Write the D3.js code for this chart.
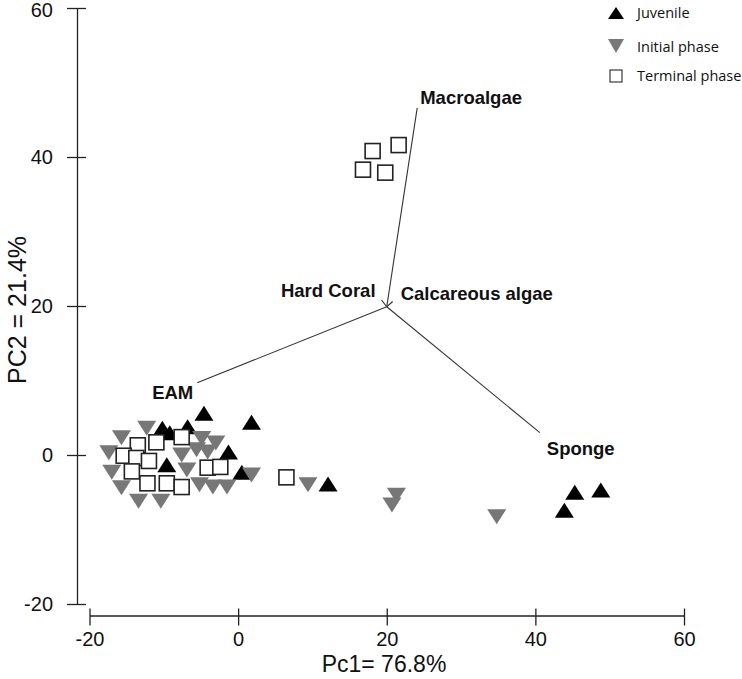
<!DOCTYPE html>
<html><head><meta charset="utf-8">
<script src="https://cdn.jsdelivr.net/npm/d3@7"></script>
<style>body{margin:0;background:#fff}svg{display:block}</style>
</head><body>
<script>
// ---- data ----
const juvenile = [
  [-4.6,5.6],[1.8,4.4],[-10.2,3.6],[-9.2,3.0],[-6.8,3.8],[-1.3,0.4],[-9.6,-1.3],[0.5,-2.3],
  [12.1,-3.9],[45.3,-5.0],[48.8,-4.7],[43.9,-7.4]
];
const initialPhase = [
  [-15.7,2.3],[-12.3,3.6],[-17.4,0.3],[-17.0,-2.3],[-15.7,-4.4],[-13.4,-6.2],[-10.4,-6.2],
  [-4.9,2.2],[-3.0,1.6],[-7.6,0.0],[-5.6,0.7],[-4.1,0.4],[-6.9,-2.0],[-5.2,-4.0],[-3.4,-4.3],
  [-1.5,-4.3],[1.8,-2.7],[9.4,-4.0],[21.3,-5.4],[20.7,-6.7],[34.8,-8.3]
];
const terminalPhase = [
  [-13.5,1.3],[-11.0,1.7],[-15.4,-0.1],[-13.7,-0.4],[-12.0,-0.8],[-14.3,-2.2],[-12.2,-3.8],
  [-9.6,-3.8],[-7.6,-4.3],[-7.6,2.4],[-4.1,-1.7],[-2.4,-1.6],[6.5,-3.0],
  [16.8,38.3],[18.1,40.8],[19.8,37.9],[21.6,41.6]
];
const vectorOrigin = [20,19.9];
const vectorNames = ["Macroalgae","Hard Coral","Calcareous algae","EAM","Sponge"];
const vectorEnds = [[24.1,46.6],[19.3,20.8],[20.8,20.6],[-5.5,9.7],[40.6,3.0]];
const xTicks = [-20,0,20,40,60];
const yTicks = [-20,0,20,40,60];
const legendNames = ["Juvenile","Initial phase","Terminal phase"];

// ---- drawing ----
const W=742,H=679;
const svg=d3.select("body").append("svg").attr("width",W).attr("height",H);
const x=d3.scaleLinear().domain([-20,60]).range([89.5,684]);
const y=d3.scaleLinear().domain([-20,60]).range([604,8]);
const font='"Liberation Sans", Arial, sans-serif';
const fmt=d=>String(d);

// axes
const ya=svg.append("g").attr("transform","translate(77,0)")
  .call(d3.axisLeft(y).tickValues(yTicks).tickFormat(fmt).tickSize(10).tickSizeOuter(0).tickPadding(14));
ya.selectAll(".tick line").attr("x1",9).attr("x2",-10);
ya.selectAll(".tick text").filter(d=>d===60).attr("dy","0.42em");
const xa=svg.append("g").attr("transform","translate(0,615.5)")
  .call(d3.axisBottom(x).tickValues(xTicks).tickFormat(fmt).tickSize(10).tickSizeOuter(0).tickPadding(6));
xa.selectAll(".tick line").attr("y1",-7).attr("y2",10);
[ya,xa].forEach(a=>{
  a.selectAll("path,line").attr("stroke","#222").attr("stroke-width",1.3);
  a.selectAll("text").attr("font-family",font).attr("font-size",20).attr("fill","#111");
});

svg.append("text").attr("x",384).attr("y",672).attr("text-anchor","middle")
  .attr("font-family",font).attr("font-size",23).attr("fill","#111").text("Pc1= 76.8%");
svg.append("text").attr("transform","translate(26,310) rotate(-90)").attr("text-anchor","middle")
  .attr("font-family",font).attr("font-size",25).attr("fill","#111").text("PC2 = 21.4%");

// vectors
const vg=svg.append("g");
vectorEnds.forEach(e=>{
  vg.append("line").attr("x1",x(vectorOrigin[0])).attr("y1",y(vectorOrigin[1]))
    .attr("x2",x(e[0])).attr("y2",y(e[1])).attr("stroke","#333").attr("stroke-width",1.1);
});
const labelPos = [ // anchor offsets relative to vector end
  {dx:3,dy:-4,anchor:"start"},
  {dx:-6,dy:-3,anchor:"end"},
  {dx:8,dy:-2,anchor:"start"},
  {dx:-4,dy:16,anchor:"end"},
  {dx:7,dy:22,anchor:"start"}
];
vectorNames.forEach((n,i)=>{
  const e=vectorEnds[i], p=labelPos[i];
  svg.append("text").attr("x",x(e[0])+p.dx).attr("y",y(e[1])+p.dy).attr("text-anchor",p.anchor)
    .attr("font-family",font).attr("font-weight","bold").attr("font-size",18.5).attr("fill","#111").text(n);
});

// points
const tw=19, th=15;
const up=`M0,${-th/2}L${tw/2},${th/2}L${-tw/2},${th/2}Z`;
const down=`M0,${th/2}L${tw/2},${-th/2}L${-tw/2},${-th/2}Z`;
svg.append("g").selectAll("path").data(juvenile).join("path")
  .attr("d",up).attr("transform",d=>`translate(${x(d[0])},${y(d[1])})`).attr("fill","#000");
svg.append("g").selectAll("path").data(initialPhase).join("path")
  .attr("d",down).attr("transform",d=>`translate(${x(d[0])},${y(d[1])})`).attr("fill","#777");
const sq=15;
svg.append("g").selectAll("rect").data(terminalPhase).join("rect")
  .attr("x",d=>x(d[0])-sq/2).attr("y",d=>y(d[1])-sq/2).attr("width",sq).attr("height",sq)
  .attr("fill","#fff").attr("stroke","#222").attr("stroke-width",1.6);

// legend
const lg=svg.append("g");
const lf='"Open Sans", "Noto Sans", sans-serif';
lg.append("path").attr("d","M0,-6L8,6L-8,6Z").attr("transform","translate(616,13)").attr("fill","#000");
lg.append("path").attr("d","M0,7L8,-7L-8,-7Z").attr("transform","translate(616,46)").attr("fill","#777");
lg.append("rect").attr("x",610).attr("y",70).attr("width",12).attr("height",12).attr("fill","#fff").attr("stroke","#111").attr("stroke-width",1);
const ly=[13,47,76];
legendNames.forEach((n,i)=>{
  lg.append("text").attr("x",637).attr("y",ly[i]).attr("dy","0.35em").attr("font-family",lf)
    .attr("font-size",14.5).attr("fill","#111").text(n);
});
</script>
</body></html>
